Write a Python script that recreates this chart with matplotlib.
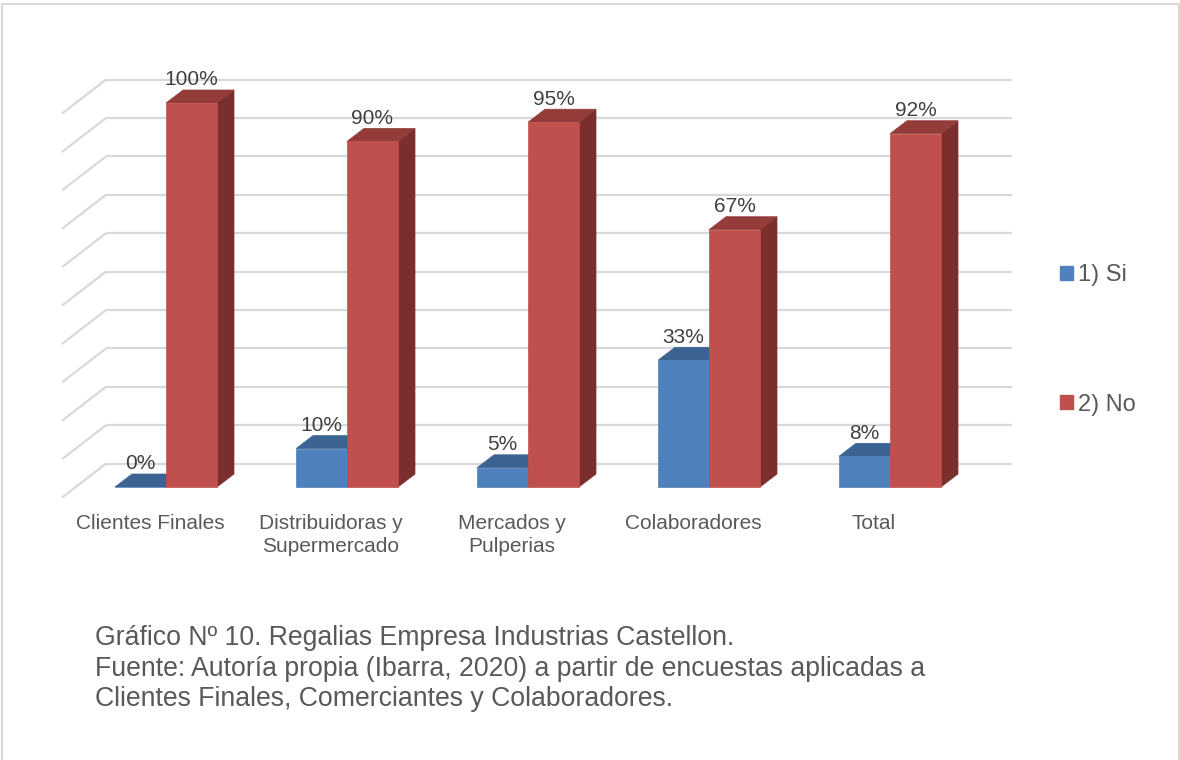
import numpy as np
import matplotlib
matplotlib.use("Agg")
import matplotlib.pyplot as plt
from matplotlib.patches import Polygon, Patch

plt.rcParams['font.family'] = ['Liberation Sans', 'DejaVu Sans']

categories = ["Clientes Finales", "Distribuidoras y\nSupermercado", "Mercados y\nPulperias",
              "Colaboradores", "Total"]
si_vals = [0, 10, 5, 33, 8]
no_vals = [100, 90, 95, 67, 92]
series_names = ["1) Si", "2) No"]
grid_vals = np.arange(0, 101, 10)
caption = ["Gráfico Nº 10. Regalias Empresa Industrias Castellon.",
           "Fuente: Autoría propia (Ibarra, 2020) a partir de encuestas aplicadas a",
           "Clientes Finales, Comerciantes y Colaboradores."]

# colours: front, top, side
blue = ("#4F81BD", "#3C6493", "#2F5079")
red = ("#C0504D", "#943C3A", "#7A2F2D")
grid_col = "#D9D9D9"
txt_col = "#595959"

W, H = 1180, 760
fig = plt.figure(figsize=(W / 100, H / 100), dpi=100)
ax = fig.add_axes([0, 0, 1, 1])

# one category = 181 px, 1 % = 3.84 px, zero line at y=487 px, first category at x=166 px
px_x, px_y, x0px, y0px = 181.0, 3.84, 166.0, 487.0
ax.set_xlim(-x0px / px_x, (W - x0px) / px_x)
ax.set_ylim((y0px - H) / px_y, y0px / px_y)
ax.axis("off")

bw = 51 / px_x          # bar width
ddx = 17 / px_x         # bar depth (x)
ddy = 13 / px_y         # bar depth (y)
wall_dy = 6.1           # back wall lift
wall_x0, wall_x1 = (106 - x0px) / px_x, (1012 - x0px) / px_x
side_x0 = (62 - x0px) / px_x
side_dy = 34 / px_y

# back wall and side wall gridlines
for g in grid_vals:
    yb = g + wall_dy
    ax.plot([wall_x0, wall_x1], [yb, yb], color=grid_col, lw=1.6, zorder=1,
            solid_capstyle="butt")
    ax.plot([side_x0, wall_x0], [yb - side_dy, yb], color=grid_col, lw=1.6, zorder=1,
            solid_capstyle="butt")


def draw_bar(x, v, cols, z):
    front, top, side = cols
    ax.add_patch(Polygon([(x + bw, 0), (x + bw + ddx, ddy), (x + bw + ddx, v + ddy), (x + bw, v)],
                         closed=True, facecolor=side, edgecolor=side, lw=0.5, zorder=z))
    ax.add_patch(Polygon([(x, v), (x + bw, v), (x + bw + ddx, v + ddy), (x + ddx, v + ddy)],
                         closed=True, facecolor=top, edgecolor=top, lw=0.5, zorder=z))
    ax.bar(x, v, width=bw, align="edge", color=front, edgecolor=front, lw=0.5, zorder=z)
    ax.text(x + bw / 2, v + ddy + 1.2, f"{v}%", ha="center", va="baseline",
            fontsize=15, color="#404040", zorder=10)


xs = np.arange(len(categories))
for i, x in enumerate(xs):
    draw_bar(x - bw, si_vals[i], blue, 3 + 2 * i)
    draw_bar(x, no_vals[i], red, 4 + 2 * i)
    ax.text(x - 16 / px_x, (y0px - 514) / px_y, categories[i], ha="center", va="top",
            fontsize=15, color=txt_col, linespacing=1.3)

# legend
handles = [Patch(facecolor=blue[0], edgecolor=blue[0]), Patch(facecolor=red[0], edgecolor=red[0])]
fig.legend(handles, series_names, loc="center left", bbox_to_anchor=(1060 / W, 1 - 340 / H),
           frameon=False, fontsize=17, handlelength=0.55, handleheight=0.55,
           handletextpad=0.22, labelspacing=4.55, borderpad=0, borderaxespad=0,
           labelcolor=txt_col)

# caption
for k, line in enumerate(caption):
    fig.text(95 / W, 1 - (645 + 30.5 * k) / H, line, ha="left", va="baseline",
             fontsize=19.2, color=txt_col)

# outer frame (top, left, right)
ax.plot([1.5 / W, 1.5 / W, 1178.5 / W, 1178.5 / W], [0, 1 - 3.5 / H, 1 - 3.5 / H, 0],
        transform=fig.transFigure, color=grid_col, lw=1.5, clip_on=False)

fig.savefig("out.png", dpi=100)
